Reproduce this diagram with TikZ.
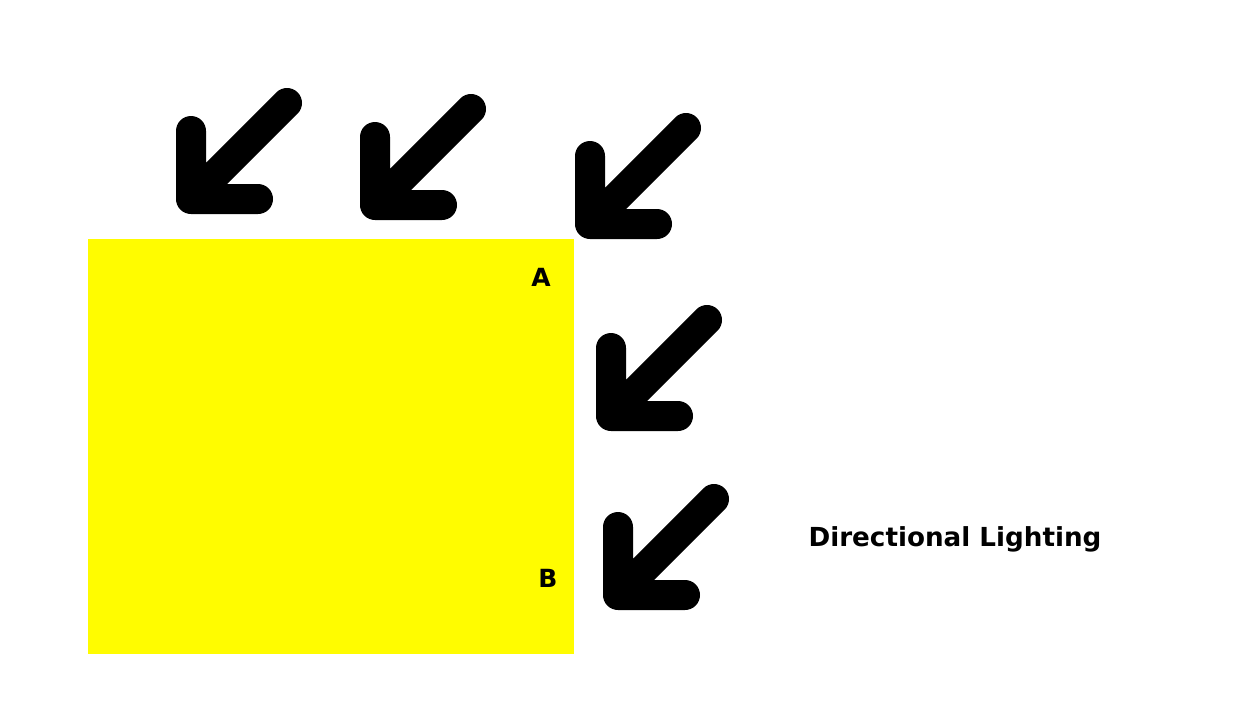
\documentclass[tikz,border=0pt]{standalone}
\usepackage{fontspec}
\setmainfont{DejaVu Sans}
\usepackage{tikz}
\definecolor{Lit}{RGB}{255,252,0}
\tikzset{
  ray/.style={line width=30, line cap=round, line join=round},
  lbl/.style={font=\bfseries\fontsize{25}{29}\selectfont, inner sep=0pt}
}

\begin{document}
\begin{tikzpicture}[x=1pt, y=-1pt]
    \useasboundingbox (0,0) rectangle (1240,720);
    %   lit face
      \fill[Lit] (88,239) rectangle (574,654);
    % incoming light
      \draw[ray] (191,131) -- ++(0,68) -- ++(67,0) (191,199) -- ++(96,-96);
      \draw[ray] (375,137) -- ++(0,68) -- ++(67,0) (375,205) -- ++(96,-96);
      \draw[ray] (590,156) -- ++(0,68) -- ++(67,0) (590,224) -- ++(96,-96);
      \draw[ray] (611,348) -- ++(0,68) -- ++(67,0) (611,416) -- ++(96,-96);
      \draw[ray] (618,527) -- ++(0,68) -- ++(67,0) (618,595) -- ++(96,-96);
      \node[lbl] (cornerA) at (541,277) {A};
      \node[lbl] (cornerB) at (548,578) {B};
      \node[lbl, font=\bfseries\fontsize{26.2}{31}\selectfont] (title) at (955,539) {Directional Lighting};
    \end{tikzpicture}
\end{document}
